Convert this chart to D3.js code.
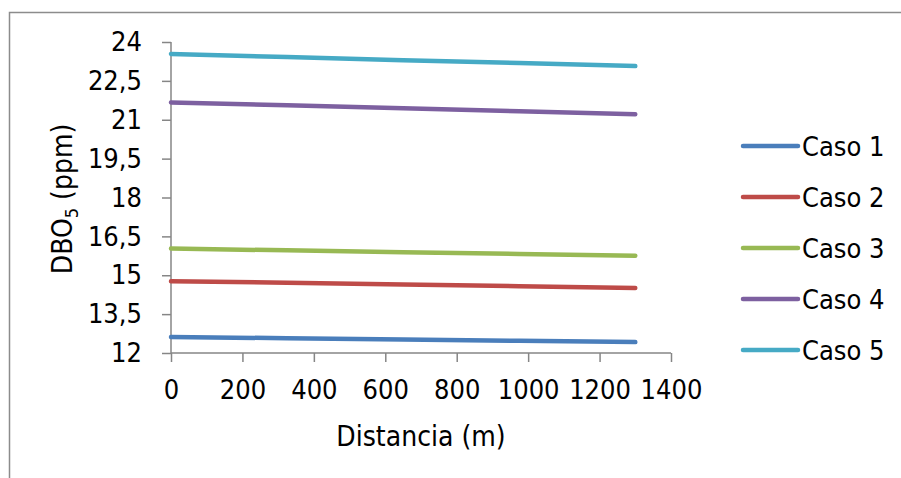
<!DOCTYPE html>
<html>
<head>
<meta charset="utf-8">
<script src="https://cdn.jsdelivr.net/npm/d3@7"></script>
<style>
  body { margin: 0; background: #fff; }
  svg text { font-family: "DejaVu Sans Condensed", "DejaVu Sans", sans-serif; fill: #000; }
</style>
</head>
<body>
<svg id="chart" width="901" height="478"></svg>
<script>
// distances (m) and DBO5 per case
let distancia = [0, 325, 650, 975, 1300];
let caso1 = [12.62, 12.57, 12.52, 12.47, 12.42];
let caso2 = [14.77, 14.71, 14.64, 14.58, 14.51];
let caso3 = [16.03, 15.96, 15.89, 15.82, 15.75];
let caso4 = [21.67, 21.56, 21.44, 21.33, 21.21];
let caso5 = [23.54, 23.42, 23.30, 23.19, 23.07];
let names = ["Caso 1", "Caso 2", "Caso 3", "Caso 4", "Caso 5"];
let colors = ["#4a7ebb", "#be4b48", "#98b954", "#7d60a0", "#46aac5"];
let yTicks = [12, 13.5, 15, 16.5, 18, 19.5, 21, 22.5, 24];
let xTicks = [0, 200, 400, 600, 800, 1000, 1200, 1400];

let series = [caso1, caso2, caso3, caso4, caso5];

let svg = d3.select("#chart");

// outer frame (runs off the right and bottom edges)
svg.append("rect")
    .attr("x", 9.5).attr("y", 12.5)
    .attr("width", 1000).attr("height", 1000)
    .attr("fill", "none")
    .attr("stroke", "#8c8c8c")
    .attr("stroke-width", 1.5);

let x = d3.scaleLinear().domain([0, 1400]).range([171, 671]);
let y = d3.scaleLinear().domain([12, 24]).range([353, 42]);

let fmt = d => String(d).replace(".", ",");

// y axis
let yAxis = svg.append("g")
    .attr("transform", "translate(171,0)")
    .call(d3.axisLeft(y).tickValues(yTicks).tickSize(9).tickPadding(20).tickFormat(fmt));
// x axis
let xAxis = svg.append("g")
    .attr("transform", "translate(0,353)")
    .call(d3.axisBottom(x).tickValues(xTicks).tickSize(9).tickPadding(18).tickFormat(d => String(d)));

[yAxis, xAxis].forEach(a => {
    a.select(".domain").attr("stroke", "#868686").attr("stroke-width", 1.5);
    a.selectAll(".tick line").attr("stroke", "#868686").attr("stroke-width", 1.5);
    a.selectAll(".tick text").attr("font-size", 27).attr("fill", "#000")
        .attr("font-family", "DejaVu Sans Condensed, DejaVu Sans, sans-serif");
});
// outer ticks only, domain without end caps
yAxis.select(".domain").attr("d", "M0,42V353");
xAxis.select(".domain").attr("d", "M171,0H671");

// lines
let line = d3.line()
    .x((d, i) => x(distancia[i]))
    .y(d => y(d));

svg.append("g").selectAll("path")
    .data(series)
    .join("path")
    .attr("d", d => line(d))
    .attr("fill", "none")
    .attr("stroke", (d, i) => colors[i])
    .attr("stroke-width", 4.5)
    .attr("stroke-linecap", "round");

// axis titles
svg.append("text")
    .attr("x", 421).attr("y", 446)
    .attr("text-anchor", "middle")
    .attr("font-size", 28)
    .text("Distancia (m)");

let yt = svg.append("text")
    .attr("transform", "translate(72,199) rotate(-90)")
    .attr("text-anchor", "middle")
    .attr("font-size", 28);
yt.append("tspan").text("DBO");
yt.append("tspan").attr("font-size", 18).attr("dy", 6).text("5");
yt.append("tspan").attr("dy", -6).text(" (ppm)");

// legend
let leg = svg.append("g").selectAll("g")
    .data(names)
    .join("g")
    .attr("transform", (d, i) => `translate(743,${146 + i * 51})`);
leg.append("line")
    .attr("x1", 0).attr("x2", 55)
    .attr("stroke", (d, i) => colors[i])
    .attr("stroke-width", 4.5)
    .attr("stroke-linecap", "round");
leg.append("text")
    .attr("x", 59).attr("y", 10)
    .attr("font-size", 27)
    .text(d => d);
</script>
</body>
</html>
